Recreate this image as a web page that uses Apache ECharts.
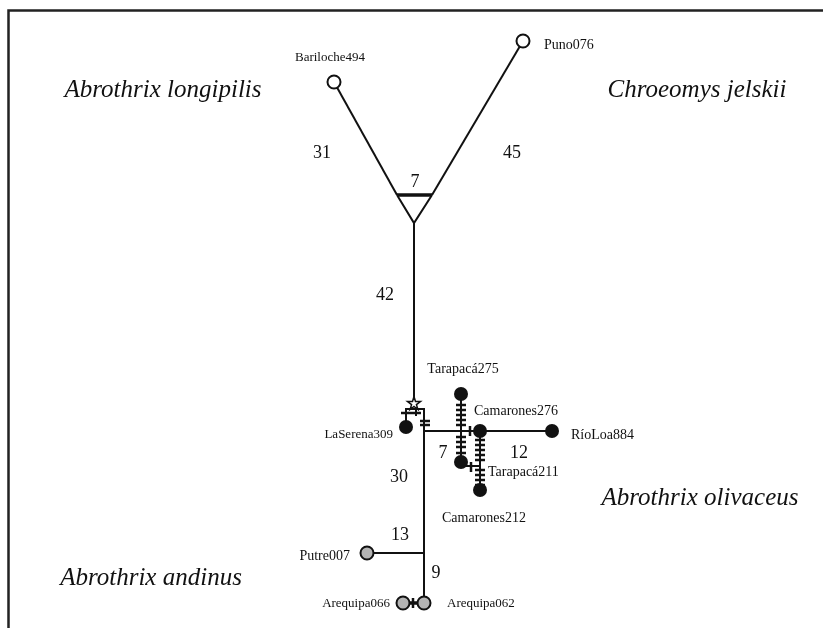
<!DOCTYPE html>
<html><head><meta charset="utf-8">
<script src="https://cdn.jsdelivr.net/npm/echarts/dist/echarts.min.js"></script>
<style>html,body{margin:0;padding:0;background:#fff}#c{width:823px;height:628px}</style>
</head><body><div id="c"></div>
<script>
// ---- haplotype nodes (network layout units) ----
const nodeNames = ['Bariloche494','Puno076','Tarapacá275','Camarones276','RíoLoa884','LaSerena309','Tarapacá211','Camarones212','Putre007','Arequipa066','Arequipa062'];
const nodeX = [334, 523, 461, 480, 552, 406, 461, 480, 367, 403, 424];
const nodeY = [82, 41, 394, 431, 431, 427, 462, 490, 553, 603, 603];
const nodeType = ['open','open','filled','filled','filled','filled','filled','filled','grey','grey','grey'];

// ---- junction points (median vectors / branching points) ----
const junctionNames = ['T1','T2','TV','Star','BoxL','BoxM','BoxR','H0','P0'];
const junctionX = [397, 432, 414, 414, 406, 416, 424, 424, 424];
const junctionY = [195, 195, 223, 403, 409, 409, 409, 431, 553];

// ---- branches as polylines of point names ----
const branches = [
  ['Bariloche494','T1'], ['Puno076','T2'], ['T1','TV','T2'], ['TV','Star'],
  ['LaSerena309','BoxL','BoxR','Arequipa062'], ['BoxM', 'BoxM+'],
  ['H0','RíoLoa884'], ['Tarapacá275','Tarapacá211'], ['Camarones276','Camarones212'],
  ['Tarapacá211+','Camarones212~'], ['Putre007','P0']
];
const thickBranches = [['T1','T2'], ['Arequipa066','Arequipa062']];

// ---- mutation ticks: x, y, orientation ----
const tickX = [406, 416, 425, 425, 461,461,461,461,461,461,461,461,461, 480,480,480,480,480,480,480,480,480, 470, 471, 413];
const tickY = [413, 413, 421, 425, 405,410,415,420,425,437,442,447,453, 440,445,450,455,460,470,475,480,485, 431, 467, 603];
const tickDir = ['h','h','h','h', 'h','h','h','h','h','h','h','h','h', 'h','h','h','h','h','h','h','h','h', 'v','v','v'];

// ---- text labels ----
const labelText = ['Bariloche494','Puno076','Tarapacá275','Camarones276','RíoLoa884','LaSerena309','Tarapacá211','Camarones212','Putre007','Arequipa066','Arequipa062'];
const labelX = [330, 544, 463, 474, 571, 393, 488, 484, 350, 390, 447];
const labelY = [58, 45, 369, 411, 435, 435, 472, 518, 556, 604, 604];
const labelAlign = ['center','left','center','left','left','right','left','center','right','right','left'];
const labelSize = [13, 14, 14, 14, 14, 13, 14, 14, 14, 13, 13];

const numberText = ['31','45','7','42','7','12','30','13','9'];
const numberX = [322, 512, 415, 385, 443, 519, 399, 400, 436];
const numberY = [153, 153, 182, 295, 453, 453, 477, 535, 573];

const speciesText = ['Abrothrix longipilis','Chroeomys jelskii','Abrothrix olivaceus','Abrothrix andinus'];
const speciesX = [163, 697, 700, 151];
const speciesY = [90, 90, 498, 578];

// ---- build ----
const pt = {};
nodeNames.forEach((n,i)=>pt[n]=[nodeX[i],nodeY[i]]);
junctionNames.forEach((n,i)=>pt[n]=[junctionX[i],junctionY[i]]);
pt['BoxM+'] = [416, 416];
pt['Tarapacá211+'] = [461, 466];
pt['Camarones212~'] = [480, 466];

const edgeData = branches.map(b=>({coords: b.map(n=>pt[n])}));
const thickData = thickBranches.map(b=>({coords: b.map(n=>pt[n])}));

const fillOf = {open:'#ffffff', filled:'#111111', grey:'#b4b4b4'};
const nodeData = nodeNames.map((n,i)=>({
  value:[nodeX[i],nodeY[i]],
  symbolSize: nodeType[i]==='filled'?14:13,
  itemStyle:{color:fillOf[nodeType[i]], borderColor:'#111', borderWidth: nodeType[i]==='filled'?0:2, opacity:1}
}));

const serif = '"Liberation Serif","DejaVu Serif",serif';
function textSeries(texts, xs, ys, aligns, fontFn){
  return {
    type:'custom', coordinateSystem:'cartesian2d', silent:true, z:10,
    data: texts.map((t,i)=>[xs[i],ys[i],i]),
    renderItem:(params, api)=>{
      const i = api.value(2);
      const p = api.coord([api.value(0), api.value(1)]);
      return {type:'text', x:p[0], y:p[1], style:{text:texts[i], font:fontFn(i), fill:'#111',
        align: aligns ? aligns[i] : 'center', verticalAlign:'middle'}};
    }
  };
}

const chart = echarts.init(document.getElementById('c'), null, {renderer:'canvas'});
chart.setOption({
  animation:false,
  backgroundColor:'#fff',
  grid:{left:0, right:0, top:0, bottom:0},
  xAxis:{type:'value', min:0, max:823, show:false},
  yAxis:{type:'value', min:0, max:628, inverse:true, show:false},
  series:[
    {type:'lines', coordinateSystem:'cartesian2d', polyline:true, silent:true,
     data:[{coords:[[8.5,628],[8.5,10.5],[823,10.5]]}],
     lineStyle:{color:'#222', width:2.5, opacity:1}},
    {type:'lines', coordinateSystem:'cartesian2d', polyline:true, silent:true,
     data:edgeData, lineStyle:{color:'#111', width:2, opacity:1}},
    {type:'lines', coordinateSystem:'cartesian2d', polyline:true, silent:true,
     data:thickData, lineStyle:{color:'#111', width:3.5, opacity:1}},
    {type:'custom', coordinateSystem:'cartesian2d', silent:true, z:3,
     data: tickX.map((x,i)=>[x, tickY[i], tickDir[i]==='h'?0:1]),
     renderItem:(params, api)=>{
       const p = api.coord([api.value(0), api.value(1)]);
       const h = api.value(2)===0;
       return {type:'line', shape: h ? {x1:p[0]-5,y1:p[1],x2:p[0]+5,y2:p[1]} : {x1:p[0],y1:p[1]-5,x2:p[0],y2:p[1]+5},
         style:{stroke:'#111', lineWidth:2.5}};
     }},
    {type:'scatter', silent:true, z:5, data:nodeData, symbol:'circle'},
    {type:'scatter', silent:true, z:5, data:[pt['Star']],
     symbol:'path://M50,0 L61,35 L98,35 L68,57 L79,91 L50,70 L21,91 L32,57 L2,35 L39,35 Z',
     symbolSize:13, itemStyle:{color:'#fff', borderColor:'#111', borderWidth:1.5, opacity:1}},
    textSeries(labelText, labelX, labelY, labelAlign, i=>labelSize[i]+'px '+serif),
    textSeries(numberText, numberX, numberY, null, i=>'18px '+serif),
    textSeries(speciesText, speciesX, speciesY, null, i=>'italic 25px '+serif)
  ]
});
</script>
</body></html>
